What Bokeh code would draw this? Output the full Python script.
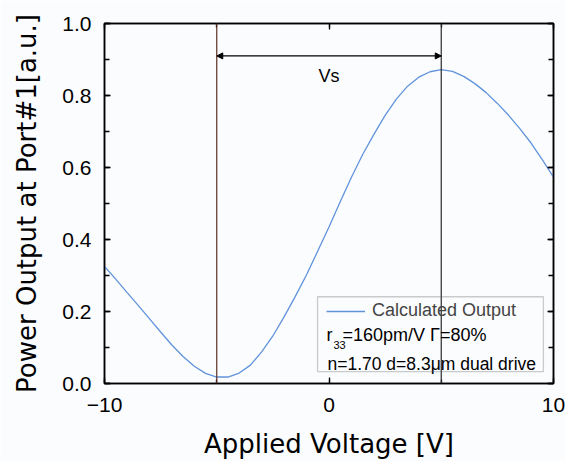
from bokeh.plotting import figure
from bokeh.models import (ColumnDataSource, Span, Arrow, NormalHead, Label, BoxAnnotation,
                          Legend, LegendItem, LinearAxis, SingleIntervalTicker, PrintfTickFormatter, Range1d)
from bokeh.embed import file_html
from bokeh.resources import INLINE

# ---- data ----
voltage = [-10, -9.5, -9, -8.5, -8, -7.5, -7, -6.5, -6, -5.5, -5, -4.5, -4, -3.5, -3, -2.5, -2,
           -1.5, -1, -0.5, 0, 0.5, 1, 1.5, 2, 2.5, 3, 3.5, 4, 4.5, 5, 5.5, 6, 6.5, 7, 7.5, 8,
           8.5, 9, 9.5, 10]
power = [0.325, 0.290, 0.253, 0.217, 0.180, 0.143, 0.107, 0.075, 0.048, 0.028, 0.018, 0.018,
         0.029, 0.051, 0.088, 0.132, 0.185, 0.242, 0.302, 0.368, 0.435, 0.505, 0.573, 0.636,
         0.692, 0.745, 0.790, 0.826, 0.851, 0.866, 0.872, 0.867, 0.853, 0.833, 0.808, 0.778,
         0.745, 0.708, 0.668, 0.622, 0.573]
marker_voltages = [-5, 5]
vs_level = 0.91
x_tick_labels = {-10: "\u221210", 0: "0", 10: "10"}
legend_label = "Calculated Output"
info_sub = ("r", "33", "=160pm/V \u0393=80%")
info_line3 = "n=1.70 d=8.3\u03bcm dual drive"

BG = "#fbfcfe"
TICK_FONT = "Liberation Sans"
LABEL_FONT = "DejaVu Sans"

p = figure(width=565, height=461, output_backend="svg", toolbar_location=None,
           x_range=Range1d(-10, 10), y_range=Range1d(0, 1),
           min_border_left=104, min_border_right=12, min_border_top=23, min_border_bottom=77,
           background_fill_color=BG, border_fill_color=BG)
p.grid.visible = False
p.outline_line_color = "black"
p.outline_line_width = 1.5

src = ColumnDataSource(dict(x=voltage, y=power))
curve = p.line("x", "y", source=src, line_color="#6193db", line_width=1.3)

xt = SingleIntervalTicker(interval=10, num_minor_ticks=2)
yt = SingleIntervalTicker(interval=0.2, num_minor_ticks=2)

def style(ax, labels=True):
    ax.axis_line_color = "black"
    ax.axis_line_width = 1.5
    ax.major_tick_in = 6
    ax.major_tick_out = 0
    ax.minor_tick_in = 4
    ax.minor_tick_out = 0
    ax.major_tick_line_color = "black"
    ax.minor_tick_line_color = "black"
    ax.major_tick_line_width = 1.3
    ax.minor_tick_line_width = 1.3
    if labels:
        ax.major_label_text_font = TICK_FONT
        ax.major_label_text_font_size = "21px"
        ax.major_label_text_color = "black"
        ax.axis_label_text_font = LABEL_FONT
        ax.axis_label_text_font_size = "26px"
        ax.axis_label_text_font_style = "normal"
        ax.axis_label_text_color = "black"
    else:
        ax.major_label_text_font_size = "6px"
        ax.major_label_text_color = None
        ax.major_label_standoff = 0

xa = p.xaxis[0]
xa.ticker = xt
xa.major_label_overrides = x_tick_labels
xa.axis_label = "Applied Voltage [V]"
style(xa)
xa.major_label_standoff = 14
xa.axis_label_standoff = 14

ya = p.yaxis[0]
ya.ticker = yt
ya.formatter = PrintfTickFormatter(format="%.1f")
ya.axis_label = "Power Output at Port#1[a.u.]"
style(ya)
ya.minor_tick_in = 5
ya.major_label_standoff = 13
ya.axis_label_standoff = 17

top = LinearAxis(ticker=SingleIntervalTicker(interval=10, num_minor_ticks=2))
style(top, labels=False)
p.add_layout(top, "above")
right = LinearAxis(ticker=SingleIntervalTicker(interval=0.2, num_minor_ticks=2))
style(right, labels=False)
right.minor_tick_in = 5
p.add_layout(right, "right")

# marker lines
p.add_layout(Span(location=marker_voltages[0], dimension="height", line_color="#5c2e24", line_width=1.2))
p.add_layout(Span(location=marker_voltages[1], dimension="height", line_color="#2a2a2a", line_width=1.2))

# Vs arrow
p.add_layout(Arrow(x_start=marker_voltages[0], y_start=vs_level, x_end=marker_voltages[1], y_end=vs_level,
                   line_color="black", line_width=1.2,
                   start=NormalHead(size=6, fill_color="black", line_color="black"),
                   end=NormalHead(size=6, fill_color="black", line_color="black")))
p.add_layout(Label(x=0, y=0.853, text="Vs", text_align="center", text_baseline="middle",
                   text_font=TICK_FONT, text_font_size="18px", text_color="black"))

# legend box
p.add_layout(BoxAnnotation(left=-0.51, right=9.55, bottom=0.033, top=0.241, fill_alpha=0,
                           line_color="#555555", line_width=1.3, level="overlay"))
leg = Legend(items=[LegendItem(label=legend_label, renderers=[curve])], location=(222, 62),
             padding=0, margin=0, spacing=0, glyph_width=39, glyph_height=20, label_height=20,
             label_standoff=7, label_text_font=TICK_FONT, label_text_font_size="18px",
             background_fill_alpha=0, border_line_alpha=0)
p.add_layout(leg, "center")

lbl = dict(text_font=TICK_FONT, text_color="black", text_baseline="alphabetic")
p.add_layout(Label(x=-0.111, y=0.136, text=info_sub[0], text_font_size="18px", **lbl))
p.add_layout(Label(x=0.20, y=0.108, text=info_sub[1], text_font_size="11px", **lbl))
p.add_layout(Label(x=0.601, y=0.136, text=info_sub[2], text_font_size="18px", **lbl))
p.add_layout(Label(x=-0.067, y=0.053, text=info_line3, text_font_size="17.5px", **lbl))

open("out.html", "w").write(file_html(p, INLINE))
